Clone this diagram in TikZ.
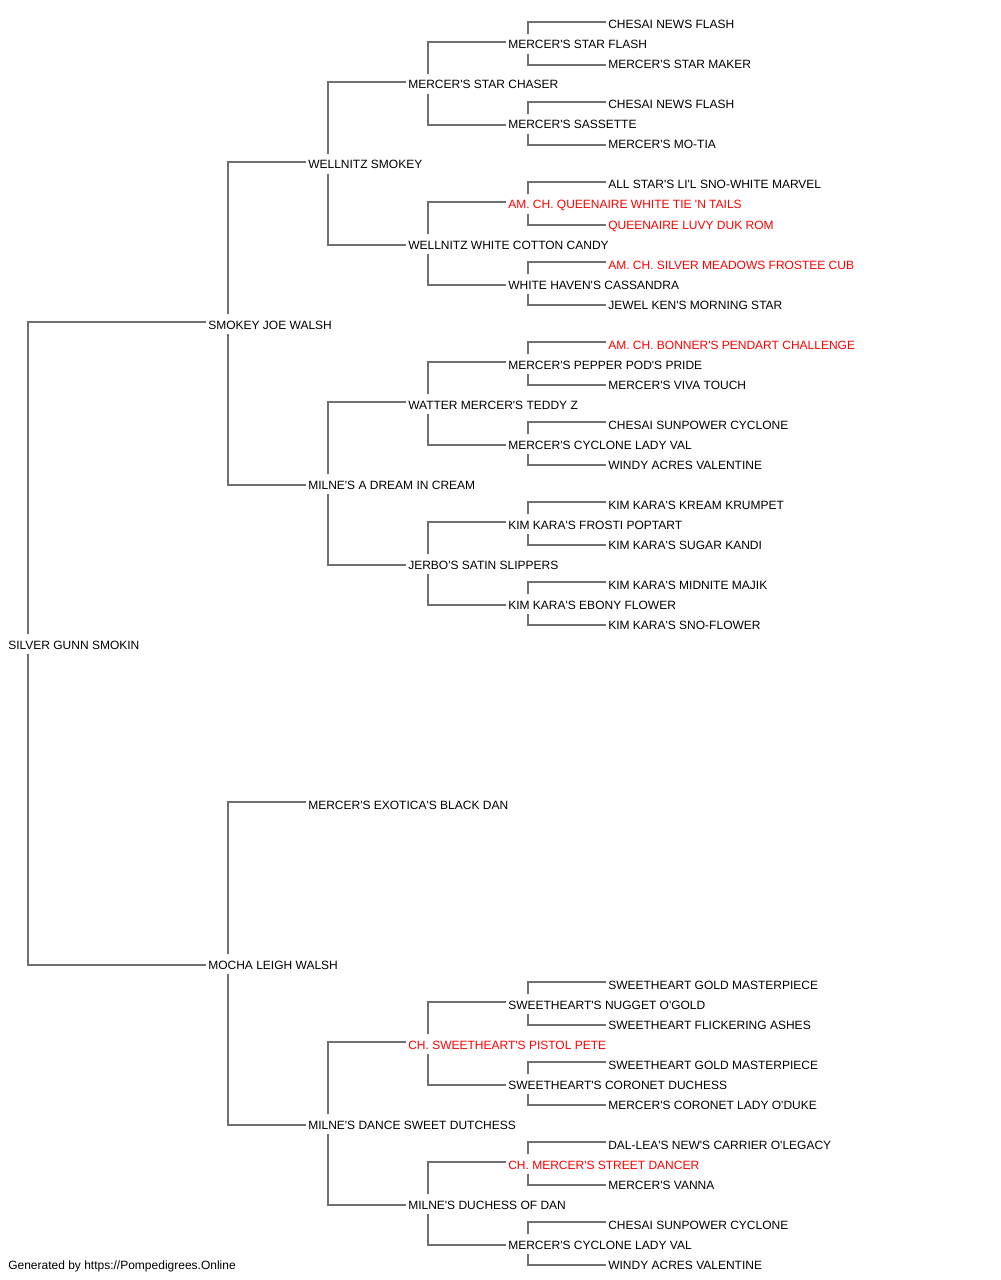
\documentclass[tikz,border=0pt]{standalone}
\usepackage{fontspec}
\setmainfont{Liberation Sans}[Ligatures=TeXOff]
\usetikzlibrary{calc}
\definecolor{linegray}{HTML}{707070}
\definecolor{pedred}{HTML}{FF0000}
\tikzset{
  lbl/.style={anchor=base west, inner sep=0pt, font=\fontsize{9}{11}\selectfont, text=black, yshift=-0.75pt},
  hl/.style={text=pedred},
  conn/.style={draw=linegray, line width=1.0pt}
}
\newcommand\pedlink[3]{%
  \draw[conn] ($(#1.base west)+(20,-15)$) |- ($(#2.base west)+(-2,-7)$);
  \draw[conn] ($(#1.base west)+(20,5)$) |- ($(#3.base west)+(-2,-4)$);}
\begin{document}
\begin{tikzpicture}[x=0.75pt,y=-0.75pt]
\useasboundingbox (0,0) rectangle (1000,1280);
% gen 0
\node[lbl] (n) at (8,648) {SILVER GUNN SMOKIN};
% gen 1
\node[lbl] (s) at (208,328) {SMOKEY JOE WALSH};
\node[lbl] (d) at (208,968) {MOCHA LEIGH WALSH};
% gen 2
\node[lbl] (ss) at (308,168) {WELLNITZ SMOKEY};
\node[lbl] (sd) at (308,488) {MILNE'S A DREAM IN CREAM};
\node[lbl] (ds) at (308,808) {MERCER'S EXOTICA'S BLACK DAN};
\node[lbl] (dd) at (308,1128) {MILNE'S DANCE SWEET DUTCHESS};
% gen 3
\node[lbl] (sss) at (408,88) {MERCER'S STAR CHASER};
\node[lbl] (ssd) at (408,248) {WELLNITZ WHITE COTTON CANDY};
\node[lbl] (sds) at (408,408) {WATTER MERCER'S TEDDY Z};
\node[lbl] (sdd) at (408,568) {JERBO'S SATIN SLIPPERS};
\node[lbl,hl] (dds) at (408,1048) {CH. SWEETHEART'S PISTOL PETE};
\node[lbl] (ddd) at (408,1208) {MILNE'S DUCHESS OF DAN};
% gen 4
\node[lbl] (ssss) at (508,48) {MERCER'S STAR FLASH};
\node[lbl] (sssd) at (508,128) {MERCER'S SASSETTE};
\node[lbl,hl] (ssds) at (508,208) {AM. CH. QUEENAIRE WHITE TIE 'N TAILS};
\node[lbl] (ssdd) at (508,288) {WHITE HAVEN'S CASSANDRA};
\node[lbl] (sdss) at (508,368) {MERCER'S PEPPER POD'S PRIDE};
\node[lbl] (sdsd) at (508,448) {MERCER'S CYCLONE LADY VAL};
\node[lbl] (sdds) at (508,528) {KIM KARA'S FROSTI POPTART};
\node[lbl] (sddd) at (508,608) {KIM KARA'S EBONY FLOWER};
\node[lbl] (ddss) at (508,1008) {SWEETHEART'S NUGGET O'GOLD};
\node[lbl] (ddsd) at (508,1088) {SWEETHEART'S CORONET DUCHESS};
\node[lbl,hl] (ddds) at (508,1168) {CH. MERCER'S STREET DANCER};
\node[lbl] (dddd) at (508,1248) {MERCER'S CYCLONE LADY VAL};
% gen 5
\node[lbl] (sssss) at (608,28) {CHESAI NEWS FLASH};
\node[lbl] (ssssd) at (608,68) {MERCER'S STAR MAKER};
\node[lbl] (sssds) at (608,108) {CHESAI NEWS FLASH};
\node[lbl] (sssdd) at (608,148) {MERCER'S MO-TIA};
\node[lbl] (ssdss) at (608,188) {ALL STAR'S LI'L SNO-WHITE MARVEL};
\node[lbl,hl] (ssdsd) at (608,228) {QUEENAIRE LUVY DUK ROM};
\node[lbl,hl] (ssdds) at (608,268) {AM. CH. SILVER MEADOWS FROSTEE CUB};
\node[lbl] (ssddd) at (608,308) {JEWEL KEN'S MORNING STAR};
\node[lbl,hl] (sdsss) at (608,348) {AM. CH. BONNER'S PENDART CHALLENGE};
\node[lbl] (sdssd) at (608,388) {MERCER'S VIVA TOUCH};
\node[lbl] (sdsds) at (608,428) {CHESAI SUNPOWER CYCLONE};
\node[lbl] (sdsdd) at (608,468) {WINDY ACRES VALENTINE};
\node[lbl] (sddss) at (608,508) {KIM KARA'S KREAM KRUMPET};
\node[lbl] (sddsd) at (608,548) {KIM KARA'S SUGAR KANDI};
\node[lbl] (sddds) at (608,588) {KIM KARA'S MIDNITE MAJIK};
\node[lbl] (sdddd) at (608,628) {KIM KARA'S SNO-FLOWER};
\node[lbl] (ddsss) at (608,988) {SWEETHEART GOLD MASTERPIECE};
\node[lbl] (ddssd) at (608,1028) {SWEETHEART FLICKERING ASHES};
\node[lbl] (ddsds) at (608,1068) {SWEETHEART GOLD MASTERPIECE};
\node[lbl] (ddsdd) at (608,1108) {MERCER'S CORONET LADY O'DUKE};
\node[lbl] (dddss) at (608,1148) {DAL-LEA'S NEW'S CARRIER O'LEGACY};
\node[lbl] (dddsd) at (608,1188) {MERCER'S VANNA};
\node[lbl] (dddds) at (608,1228) {CHESAI SUNPOWER CYCLONE};
\node[lbl] (ddddd) at (608,1268) {WINDY ACRES VALENTINE};
% footer
\node[lbl] (foot) at (8,1268) {Generated by https://Pompedigrees.Online};
% connectors
\pedlink{n}{s}{d}
\pedlink{s}{ss}{sd}
\pedlink{d}{ds}{dd}
\pedlink{ss}{sss}{ssd}
\pedlink{sd}{sds}{sdd}
\pedlink{dd}{dds}{ddd}
\pedlink{sss}{ssss}{sssd}
\pedlink{ssd}{ssds}{ssdd}
\pedlink{sds}{sdss}{sdsd}
\pedlink{sdd}{sdds}{sddd}
\pedlink{dds}{ddss}{ddsd}
\pedlink{ddd}{ddds}{dddd}
\pedlink{ssss}{sssss}{ssssd}
\pedlink{sssd}{sssds}{sssdd}
\pedlink{ssds}{ssdss}{ssdsd}
\pedlink{ssdd}{ssdds}{ssddd}
\pedlink{sdss}{sdsss}{sdssd}
\pedlink{sdsd}{sdsds}{sdsdd}
\pedlink{sdds}{sddss}{sddsd}
\pedlink{sddd}{sddds}{sdddd}
\pedlink{ddss}{ddsss}{ddssd}
\pedlink{ddsd}{ddsds}{ddsdd}
\pedlink{ddds}{dddss}{dddsd}
\pedlink{dddd}{dddds}{ddddd}
\end{tikzpicture}
\end{document}
